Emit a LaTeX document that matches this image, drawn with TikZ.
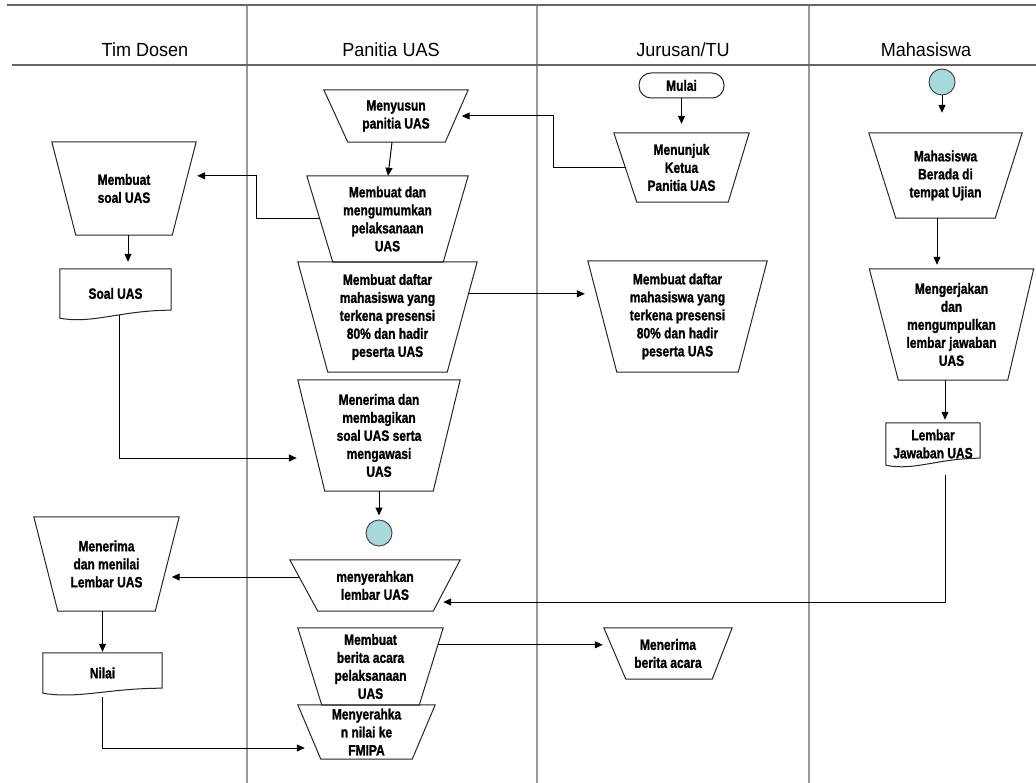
\documentclass[tikz,border=0pt]{standalone}
\usepackage{fontspec}
\setmainfont{Liberation Sans}
\newfontfamily\boxfont[FakeStretch=0.8, BoldFeatures={FakeBold=1.2}]{Liberation Sans}
\newfontfamily\headfont[FakeStretch=0.95]{Liberation Sans}
\usetikzlibrary{arrows.meta}
\definecolor{connfill}{RGB}{166,216,220}

% inverted trapezoid (manual operation): name, cx, cy, top width, height, left inset, right inset, text
\newcommand\trapbox[8]{%
  \node[tbox, minimum width=#4pt, minimum height=#5pt] (#1) at (#2,#3) {#8};
  \draw[shp] (#1.north west) -- (#1.north east) -- ([xshift=-#7pt]#1.south east)
    -- ([xshift=#6pt]#1.south west) -- cycle;
}
% document symbol with wavy bottom: name, cx, cy, width, height, rise of right corner, text
\newcommand\docbox[7]{%
  \node[tbox, minimum width=#4pt, minimum height=#5pt] (#1) at (#2,#3) {#7};
  \pgfmathsetmacro\dca{-0.45*#4}\pgfmathsetmacro\dcb{0.3*#4}%
  \draw[shp] (#1.north west) -- (#1.north east) -- ([yshift=#6pt]#1.south east)
    .. controls ([xshift=\dca pt,yshift=#6pt]#1.south east) and ([xshift=\dcb pt,yshift=-6pt]#1.south west)
    .. (#1.south west) -- cycle;
}

\begin{document}
\begin{tikzpicture}[x=1pt,y=-1pt,
  lane/.style={draw=black!40, line width=1.2pt},
  rule/.style={draw=black!60, line width=1.6pt},
  head/.style={font=\headfont\fontsize{19}{22}\selectfont, anchor=base, inner sep=0pt},
  tbox/.style={draw=none, inner sep=0pt, align=center, font=\boxfont\bfseries\fontsize{15}{18}\selectfont},
  shp/.style={draw=black!85, line width=1pt, line join=miter},
  arr/.style={draw=black, line width=1pt, -{Triangle[length=8pt,width=7pt]}},
  conn/.style={circle, draw=black!70, line width=1pt, fill=connfill, minimum size=26pt, inner sep=0pt},
  term/.style={rectangle, rounded corners=12pt, draw=black!85, line width=1pt, minimum width=85pt,
    minimum height=25pt, inner sep=0pt, font=\boxfont\bfseries\fontsize{15}{18}\selectfont}
]
\useasboundingbox[fill=white] (0,0) rectangle (1036,783);

% swimlane frame
\draw[lane] (247,5) -- (247,783);
\draw[lane] (537,5) -- (537,783);
\draw[lane] (809,5) -- (809,783);
\draw[rule] (7,5) -- (1036,5);
\draw[rule] (12,65) -- (1036,65);

\node[head] (hTim) at (145,57) {Tim Dosen};
\node[head] (hPan) at (391,57) {Panitia UAS};
\node[head] (hJur) at (683,57) {Jurusan/TU};
\node[head] (hMhs) at (926,57) {Mahasiswa};

% Panitia UAS
\trapbox{P1}{396}{116}{144}{52}{24}{23}{Menyusun\\panitia UAS}
\trapbox{P2}{387.5}{219}{161}{86}{26}{25}{Membuat dan\\mengumumkan\\pelaksanaan\\UAS}
\trapbox{P3}{387.5}{317}{179}{110}{30}{30}{Membuat daftar\\mahasiswa yang\\terkena presensi\\80\% dan hadir\\peserta UAS}
\trapbox{P4}{379}{435.5}{162}{111}{27}{27}{Menerima dan\\membagikan\\soal UAS serta\\mengawasi\\UAS}
\node[conn] (c1) at (379,533) {};
\trapbox{P5}{375}{585.5}{170}{51}{28}{27}{menyerahkan\\lembar UAS}
\trapbox{P6}{370.5}{666.5}{145}{77}{24}{24}{Membuat\\berita acara\\pelaksanaan\\UAS}
\trapbox{P7}{366.5}{732}{137}{54}{23}{23}{Menyerahka\\n nilai ke\\FMIPA}

% Tim Dosen
\trapbox{T1}{124}{188.5}{144}{93}{24}{24}{Membuat\\soal UAS}
\docbox{soal}{115.5}{293.5}{111}{49}{8}{Soal UAS}
\trapbox{T2}{106.5}{564}{145}{94}{24}{24}{Menerima\\dan menilai\\Lembar UAS}
\docbox{nilai}{102.5}{673}{119}{40}{5}{Nilai}

% Jurusan/TU
\node[term] (mulai) at (681.5,85.5) {Mulai};
\trapbox{J1}{681.5}{167.5}{135}{69}{23}{21}{Menunjuk\\Ketua\\Panitia UAS}
\trapbox{J2}{677.5}{316.5}{179}{111}{29}{29}{Membuat daftar\\mahasiswa yang\\terkena presensi\\80\% dan hadir\\peserta UAS}
\trapbox{J3}{668}{653.5}{128}{51}{22}{20}{Menerima\\berita acara}

% Mahasiswa
\node[conn] (c2) at (942,82) {};
\trapbox{M1}{945.5}{175.5}{153}{85}{27}{27}{Mahasiswa\\Berada di\\tempat Ujian}
\trapbox{M2}{951.5}{324.5}{164}{111}{29}{26}{Mengerjakan\\dan\\mengumpulkan\\lembar jawaban\\UAS}
\docbox{ljaw}{933}{444}{94}{42}{7}{Lembar\\Jawaban UAS}

% connectors
\draw[arr, shorten >=9pt] (mulai.south) -- (J1.north);
\draw[arr, shorten >=5pt] ([xshift=11pt]J1.west) -- (553,167.5) |- ([xshift=-11.5pt]P1.east);
\draw[arr] ([xshift=-4pt]P1.south) -- ([xshift=0.5pt]P2.north);
\draw[arr] ([xshift=13pt]P2.west) -- (256,219) |- ([xshift=1pt,yshift=-34pt]T1.north east);
\draw[arr, shorten >=7pt] ([xshift=4pt]T1.south) -- ([xshift=12.5pt]soal.north);
\draw[arr] ([xshift=3.5pt,yshift=3pt]soal.south) |- ([xshift=-1pt,yshift=-22.5pt]P4.west);
\draw[arr, shorten >=3pt] ([xshift=-9pt,yshift=-32pt]P3.north east) -- ([yshift=-33pt]J2.north west);
\draw[arr, shorten >=4pt] (P4.south) -- (c1.north);
\draw[arr, shorten >=5pt] ([xshift=12pt,yshift=-10pt]ljaw.south) |- ([xshift=-22pt,yshift=-16.5pt]P5.east);
\draw[arr, shorten >=8pt] ([xshift=9pt,yshift=8.5pt]P5.west) -- ([xshift=-15.5pt,yshift=-13pt]T2.east);
\draw[arr, shorten >=1pt] (nilai.north |- T2.south) -- (nilai.north);
\draw[arr] ([yshift=-4pt]nilai.south) |- ([xshift=7pt,yshift=-16pt]P7.west);
\draw[arr, shorten >=8pt] ([xshift=-5pt,yshift=-17pt]P6.north east) -- ([xshift=7pt,yshift=-17pt]J3.north west);
\draw[arr, shorten >=20pt] (c2.south) -- (c2.south |- M1.north);
\draw[arr, shorten >=4pt] ([xshift=-8.5pt]M1.south) -- ([xshift=-14.5pt]M2.north);
\draw[arr, shorten >=3pt] ([xshift=-6.5pt]M2.south) -- ([xshift=12pt]ljaw.north);
\end{tikzpicture}
\end{document}
